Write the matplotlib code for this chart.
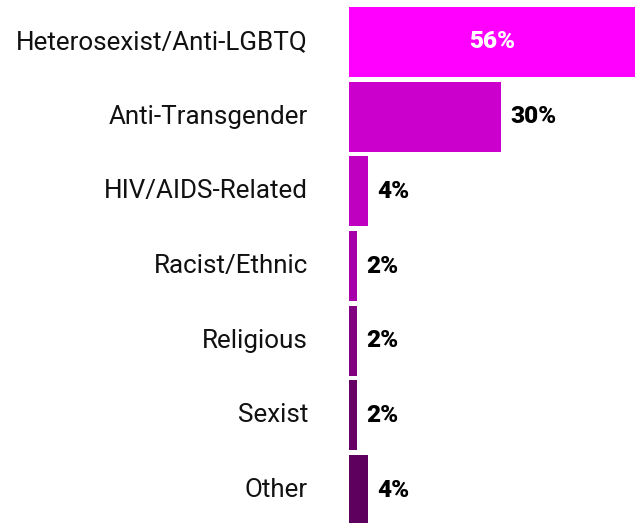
import matplotlib
matplotlib.use("Agg")
import matplotlib.pyplot as plt

categories = ["Heterosexist/Anti-LGBTQ", "Anti-Transgender", "HIV/AIDS-Related",
              "Racist/Ethnic", "Religious", "Sexist", "Other"]
values = [56, 29.8, 3.7, 1.6, 1.6, 1.6, 3.7]
value_labels = ["56%", "30%", "4%", "2%", "2%", "2%", "4%"]
colors = ["#FF00FF", "#CC00CC", "#C000C0", "#A800A8", "#800080", "#660066", "#5E005E"]

PX_PER_UNIT = 286 / 56  # horizontal scale
PITCH = 74.67           # vertical distance between bar centres, px

fig = plt.figure(figsize=(6.38, 5.23), dpi=100)
ax = fig.add_axes([349 / 638, 0, 289 / 638, 1])

y = list(range(len(categories)))
ax.barh(y, values, height=70 / PITCH, color=colors)
ax.set_xlim(0, 289 / PX_PER_UNIT)
ax.set_ylim((523 - 42) / PITCH, -42 / PITCH)
ax.axis("off")

for i, (cat, v, lab) in enumerate(zip(categories, values, value_labels)):
    ax.text(-41 / PX_PER_UNIT, i, cat, ha="right", va="center", fontsize=18.7,
            family="Roboto", fontweight="normal", color="#111111")
    if i == 0:
        ax.text(v / 2, i, lab, ha="center", va="center", fontsize=17.5,
                family="Roboto", fontweight="black", color="white")
    else:
        ax.text(v + 9 / PX_PER_UNIT, i, lab, ha="left", va="center", fontsize=17.5,
                family="Roboto", fontweight="black", color="black")

fig.savefig("out.png", dpi=100)
